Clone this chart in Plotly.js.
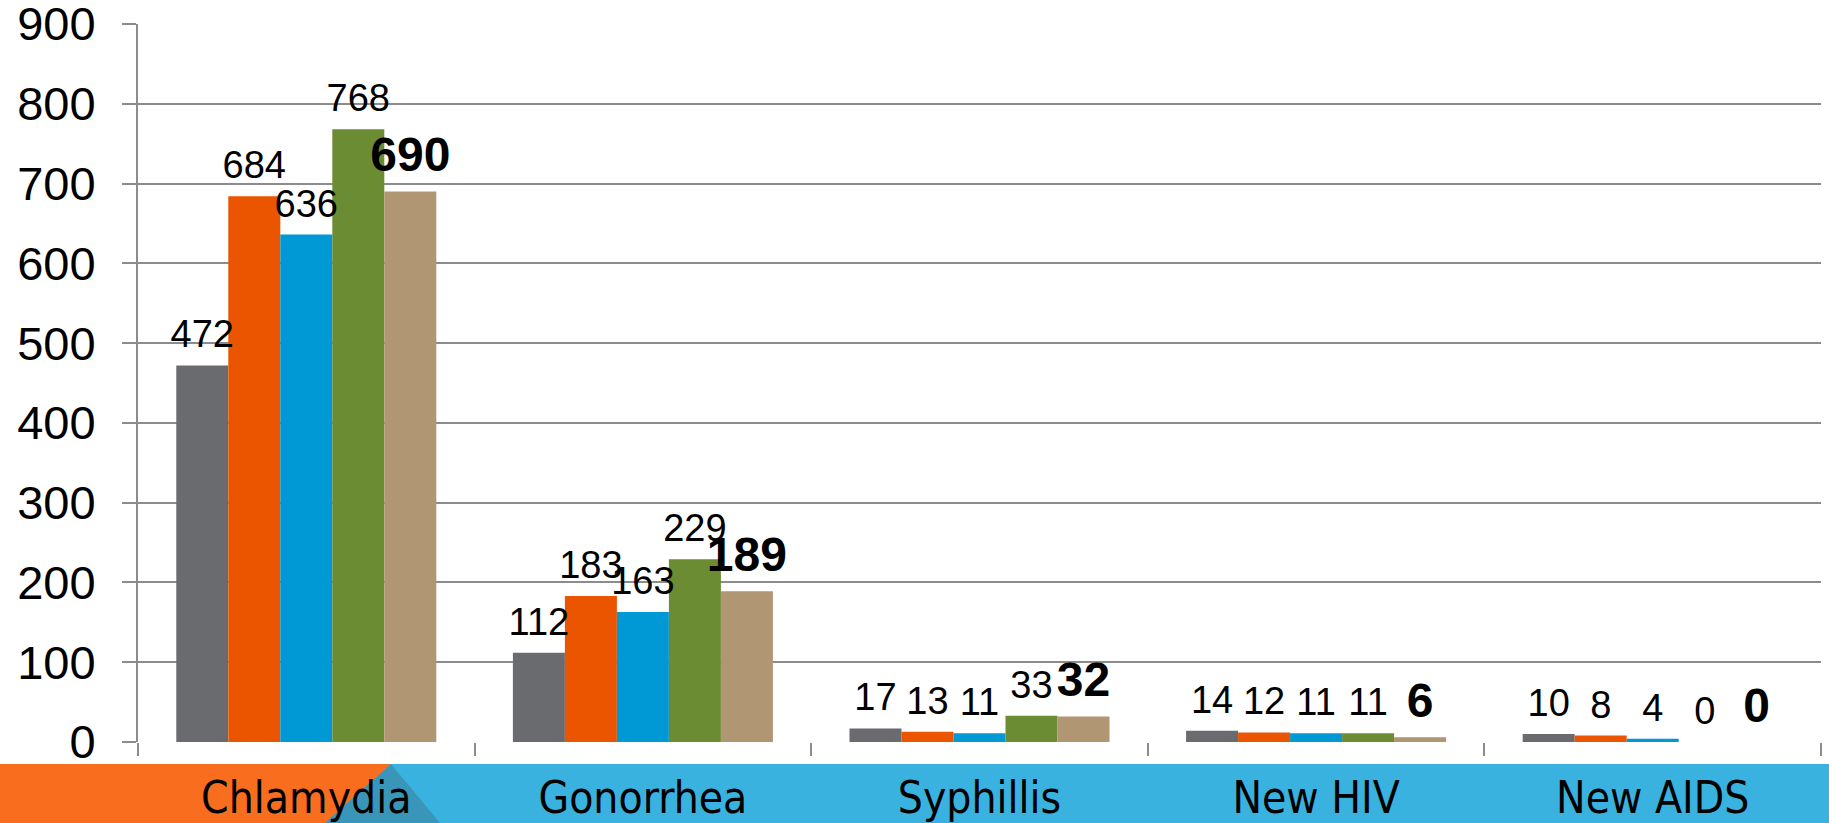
<!DOCTYPE html>
<html><head><meta charset="utf-8">
<script src="https://cdn.plot.ly/plotly-3.0.1.min.js"></script>
<style>html,body{margin:0;padding:0;background:#fff;overflow:hidden;} #chart{width:1829px;height:823px;}</style>
</head><body><div id="chart"></div>
<script>
// ---- data ----
const categories = ["Chlamydia", "Gonorrhea", "Syphillis", "New HIV", "New AIDS"];
const series1 = [472, 112, 17, 14, 10];
const series2 = [684, 183, 13, 12, 8];
const series3 = [636, 163, 11, 11, 4];
const series4 = [768, 229, 33, 11, 0];
const series5 = [690, 189, 32, 6, 0];
const seriesNames = ["Series 1", "Series 2", "Series 3", "Series 4", "Series 5"];
const yTickVals = [0, 100, 200, 300, 400, 500, 600, 700, 800, 900];
const yTickText = ["0", "100", "200", "300", "400", "500", "600", "700", "800", "900"];

// ---- styles ----
const W = 1829, H = 823;
const M = {l: 138, r: 8, t: 24, b: 81};
const colors = ["#6a6b6f", "#ec5500", "#0099d6", "#6c8c34", "#b09672"];
const gridColor = "#8c8c8c";
const labelFont = "Liberation Sans, Arial, sans-serif";
const catFont = "Liberation Sans Narrow, Arial Narrow, DejaVu Sans Condensed, sans-serif";

const allSeries = [series1, series2, series3, series4, series5];
const traces = [];
allSeries.forEach((vals, i) => {
  traces.push({
    type: "bar", name: seriesNames[i], x: categories, y: vals,
    marker: {color: colors[i], line: {width: 0}},
    offsetgroup: String(i), hoverinfo: "skip", showlegend: false
  });
});
allSeries.forEach((vals, i) => {
  const big = (i === 4);
  traces.push({
    type: "scatter", mode: "markers+text", x: categories, y: vals,
    text: vals.map(String), textposition: "top center",
    textfont: {family: labelFont, size: big ? 48 : 38, color: "#000", weight: big ? "bold" : "normal"},
    marker: {size: 12, opacity: 0, color: colors[i]},
    offsetgroup: String(i), alignmentgroup: "lbl", cliponaxis: false,
    hoverinfo: "skip", showlegend: false
  });
});

// pixel -> paper helpers for the decorative band
const pw = W - M.l - M.r, ph = H - M.t - M.b;
const px = v => (v - M.l) / pw;
const py = v => (H - M.b - v) / ph;
const bandTop = 764, bandBot = 823;
function poly(pts) {
  return "M" + pts.map(p => px(p[0]) + "," + py(p[1])).join(" L") + " Z";
}
const shapes = [
  {type: "path", xref: "paper", yref: "paper", layer: "below", line: {width: 0}, fillcolor: "#3ab2df",
   path: poly([[0, bandTop], [W, bandTop], [W, bandBot], [0, bandBot]])},
  {type: "path", xref: "paper", yref: "paper", layer: "below", line: {width: 0}, fillcolor: "#f86e1e",
   path: poly([[0, bandTop], [391, bandTop], [325, bandBot], [0, bandBot]])},
  {type: "path", xref: "paper", yref: "paper", layer: "below", line: {width: 0}, fillcolor: "#3a96b8",
   path: poly([[391, bandTop], [440, bandBot], [325, bandBot]])}
];

const layout = {
  width: W, height: H, margin: M,
  paper_bgcolor: "#fff", plot_bgcolor: "#fff",
  barmode: "group", bargap: 0.2275, bargroupgap: 0,
  scattermode: "group", scattergap: 0.2275,
  showlegend: false,
  xaxis: {
    type: "category", tickson: "boundaries", ticks: "outside", ticklen: 13, tickwidth: 2,
    tickcolor: gridColor, showgrid: false, showline: false, zeroline: false,
    tickfont: {family: catFont, size: 44, color: "#000"}, ticklabelstandoff: 26,
    ticklabeloverflow: "allow", fixedrange: true
  },
  yaxis: {
    range: [0, 900], tickvals: yTickVals, ticktext: yTickText,
    showgrid: true, gridcolor: gridColor, gridwidth: 2,
    ticks: "outside", ticklen: 14, tickwidth: 2, tickcolor: gridColor,
    showline: true, linecolor: gridColor, linewidth: 2, zeroline: false,
    tickfont: {family: labelFont, size: 47, color: "#000"}, ticklabelstandoff: 17,
    ticklabeloverflow: "allow", fixedrange: true
  },
  shapes: shapes
};

Plotly.newPlot("chart", traces, layout, {displayModeBar: false, staticPlot: true});
</script>
</body></html>
